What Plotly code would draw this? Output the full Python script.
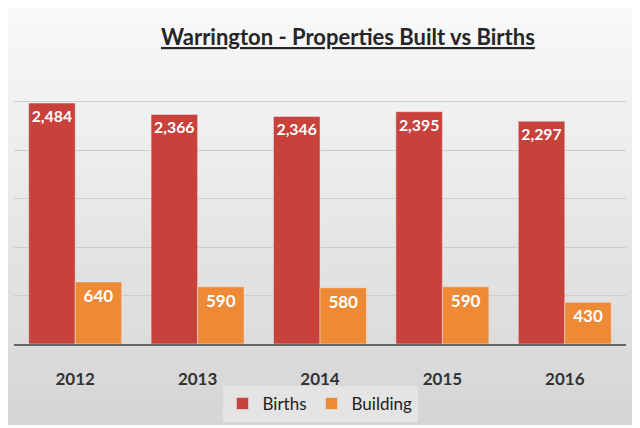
import plotly.graph_objects as go

# data
years = ['2012', '2013', '2014', '2015', '2016']
births = [2484, 2366, 2346, 2395, 2297]
building = [640, 590, 580, 590, 430]

RED = '#C8413A'
ORANGE = '#EE8A35'
FONT = 'Lato, Open Sans, sans-serif'

fig = go.Figure()

fig.add_trace(go.Bar(
    x=years, y=births, name='Births', marker_color=RED,
    text=[f'{v:,}' for v in births], textposition='inside',
    insidetextanchor='end', textangle=0,
    textfont=dict(color='white', size=17, family=FONT, weight='bold'),
))
fig.add_trace(go.Bar(
    x=years, y=building, name='Building', marker_color=ORANGE,
    text=[f'{v:,}' for v in building], textposition='inside',
    insidetextanchor='end', textangle=0,
    textfont=dict(color='white', size=17, family=FONT, weight='bold'),
))

# background panel with a soft vertical gradient (overlapping bands, no seams)
n = 60
top, bot = 1.155, -0.278
c0, c1 = 249, 213
shapes = []
for i in range(n):
    y1 = top - (top - bot) * i / n
    y0 = top - (top - bot) * (i + 1) / n - 0.012
    if i == n - 1:
        y0 = bot
    g = int(round(c0 + (c1 - c0) * i / (n - 1)))
    shapes.append(dict(type='rect', xref='paper', yref='paper',
                       x0=-0.0098, x1=1.0163, y0=y0, y1=y1,
                       fillcolor=f'rgb({g},{g},{g})', line=dict(width=0),
                       layer='below'))

# page body has an 8px margin, so the figure is a bit smaller and shifted
fig.update_layout(
    width=632, height=420,
    margin=dict(l=6, r=14, t=45, b=84, autoexpand=False),
    paper_bgcolor='white', plot_bgcolor='rgba(0,0,0,0)',
    barmode='group', bargap=0.24, bargroupgap=0,
    shapes=shapes,
    font=dict(family=FONT, color='#333333'),
    showlegend=True,
    legend=dict(orientation='h', x=0.5, xanchor='center', y=-0.206, yanchor='middle',
                bgcolor='rgba(230,230,230,0.9)', font=dict(size=17, color='#222222'),
                itemwidth=30, traceorder='normal'),
    annotations=[dict(
        text='<b><u>Warrington - Properties Built vs Births</u></b>',
        xref='paper', yref='paper', x=0.545, y=1.055, xanchor='center', yanchor='middle',
        showarrow=False, font=dict(size=22, color='#262626', family=FONT),
    )],
)

fig.update_xaxes(
    showline=True, linecolor='#666666', linewidth=1.5,
    tickfont=dict(size=17, color='#333333', family=FONT, weight='bold'),
    ticks='', ticklabelstandoff=19,
)
fig.update_yaxes(
    range=[0, 3000], dtick=500, showticklabels=False,
    showgrid=True, gridcolor='#cdcdcd', gridwidth=1, zeroline=False,
)

fig.write_html('out.html')
